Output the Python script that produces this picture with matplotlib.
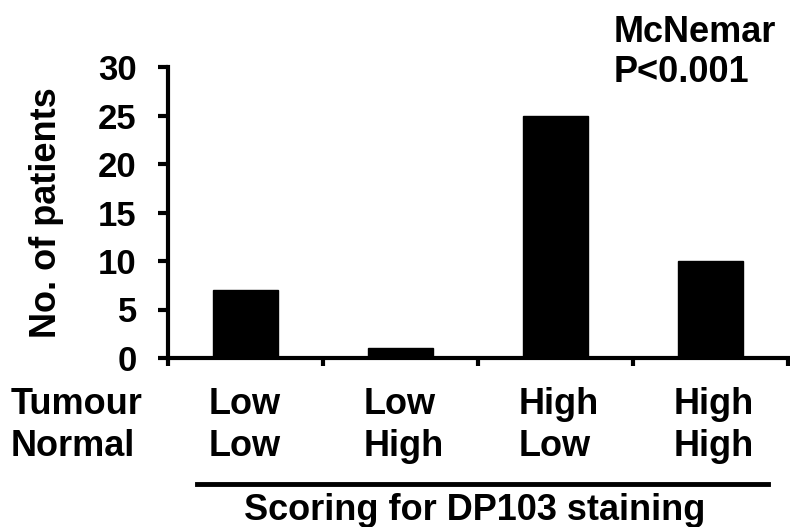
import matplotlib
matplotlib.use("Agg")
import matplotlib.pyplot as plt
import matplotlib.transforms as mtransforms
import numpy as np

# data
tumour = ["Low", "Low", "High", "High"]
normal = ["Low", "High", "Low", "High"]
patients = [7, 1, 25, 10]
y_ticks = [0, 5, 10, 15, 20, 25, 30]

plt.rcParams["font.family"] = ["Liberation Sans", "DejaVu Sans"]
plt.rcParams["font.weight"] = "bold"

FS = 26

fig = plt.figure(figsize=(7.9, 5.27), dpi=100)
ax = fig.add_axes([168 / 790, 1 - 358 / 527, (788 - 168) / 790, (358 - 67) / 527])

x = np.arange(len(patients))
ax.bar(x, patients, width=0.42, color="black", edgecolor="black")

ax.set_xlim(-0.5, len(patients) - 0.5)
ax.set_ylim(0, 30)
ax.set_yticks(y_ticks)
ax.set_xticks(np.arange(len(patients) + 1) - 0.5)
ax.set_xticklabels([])

for side in ("top", "right"):
    ax.spines[side].set_visible(False)
for side in ("left", "bottom"):
    ax.spines[side].set_linewidth(3)
ax.tick_params(axis="y", direction="out", length=7.5, width=3, labelsize=25, pad=15)
ax.tick_params(axis="x", direction="out", length=6, width=3)
for lbl in ax.get_yticklabels():
    lbl.set_fontweight("bold")

ax.set_ylabel("No. of patients", fontsize=FS, fontweight="bold")
ax.yaxis.set_label_coords(
    64 / 790, 0.5,
    transform=mtransforms.blended_transform_factory(fig.transFigure, ax.transAxes))

# row labels under the bars
trans = mtransforms.blended_transform_factory(ax.transData, fig.transFigure)
fig.text(11 / 790, 1 - 404 / 527, "Tumour", fontsize=FS, fontweight="bold",
         ha="left", va="center")
fig.text(11 / 790, 1 - 447 / 527, "Normal", fontsize=FS, fontweight="bold",
         ha="left", va="center")
for i, (t, n) in enumerate(zip(tumour, normal)):
    ax.text(i - 0.24, 1 - 404 / 527, t, transform=trans, fontsize=FS,
            fontweight="bold", ha="left", va="center")
    ax.text(i - 0.24, 1 - 447 / 527, n, transform=trans, fontsize=FS,
            fontweight="bold", ha="left", va="center")

# underline + caption
fig.add_artist(plt.Line2D([197 / 790, 768 / 790], [1 - 484 / 527, 1 - 484 / 527],
                          color="black", linewidth=3.5, transform=fig.transFigure))
fig.text(475 / 790, 1 - 510 / 527, "Scoring for DP103 staining", fontsize=FS,
         fontweight="bold", ha="center", va="center")

# statistics annotation
fig.text(614 / 790, 1 - 33 / 527, "McNemar", fontsize=FS, fontweight="bold",
         ha="left", va="center")
fig.text(614 / 790, 1 - 73 / 527, "P<0.001", fontsize=FS, fontweight="bold",
         ha="left", va="center")

fig.savefig("out.png", dpi=100)
